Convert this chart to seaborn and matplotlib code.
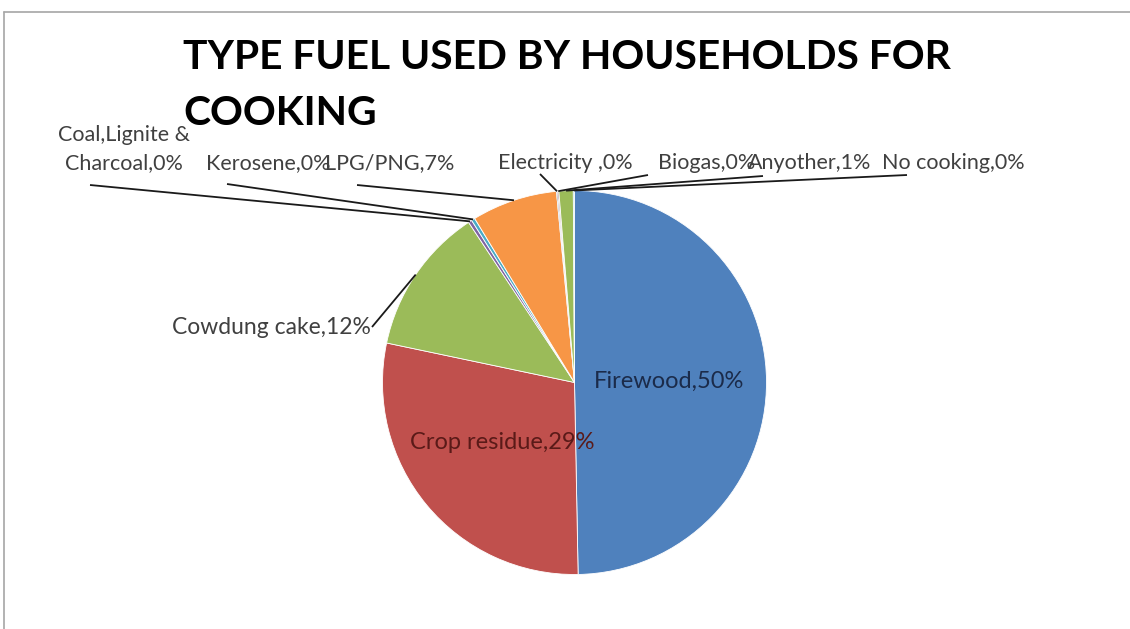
import numpy as np
import matplotlib
matplotlib.use("Agg")
import matplotlib.pyplot as plt
from matplotlib.lines import Line2D
import seaborn as sns

# ---- data ----
categories = ["Firewood", "Crop residue", "Cowdung cake", "Coal,Lignite &\nCharcoal",
              "Kerosene", "LPG/PNG", "Electricity ", "Biogas", "Anyother", "No cooking"]
shares = [49.7, 28.6, 12.4, 0.3, 0.3, 7.2, 0.1, 0.1, 1.2, 0.1]
pct_labels = ["50%", "29%", "12%", "0%", "0%", "7%", "0%", "0%", "1%", "0%"]
title_lines = ["TYPE FUEL USED BY HOUSEHOLDS FOR", "COOKING"]

# ---- style ----
sns.set_theme(style="white")
plt.rcParams["font.family"] = ["Lato", "DejaVu Sans"]
colors = sns.color_palette(["#4F81BD", "#C0504D", "#9BBB59", "#8064A2", "#4BACC6",
                            "#F79646", "#2C4D75", "#772C2A", "#9BBB59", "#4BACC6"])

W, H = 1130, 629
fig = plt.figure(figsize=(W / 100, H / 100), dpi=100)
ax = fig.add_axes([0, 0, 1, 1])

def py(y):
    return H - y

cx, cy, R = 574.5, py(382.5), 192
wedges, _ = ax.pie(shares, colors=colors, startangle=90, counterclock=False,
                   center=(cx, cy), radius=R, frame=True,
                   wedgeprops=dict(linewidth=0.6, edgecolor="white"))
ax.set_xlim(0, W)
ax.set_ylim(0, H)
ax.axis("off")

def mid_angle(w):
    return np.deg2rad((w.theta1 + w.theta2) / 2)

label_color = "#404040"

# inside labels
inside = {0: "#1B2B4A", 1: "#5A1A18"}
for i, c in inside.items():
    a = mid_angle(wedges[i])
    ax.text(cx + 0.49 * R * np.cos(a), cy + 0.49 * R * np.sin(a),
            f"{categories[i]},{pct_labels[i]}", ha="center", va="center",
            fontsize=17, color=c)

# outside labels: text center (px), leader start (px)
outside = {
    2: ((271, 328), (372, 327)),
    3: ((124, 149), (90, 185)),
    4: ((268, 163), (227, 184)),
    5: ((390, 163), (357, 185)),
    6: ((565, 163), (540, 174)),
    7: ((707, 163), (648, 175)),
    8: ((810, 163), (763, 176)),
    9: ((953, 163), (907, 175)),
}
for i, ((tx, ty), (lx, ly)) in outside.items():
    a = mid_angle(wedges[i])
    ex, ey = cx + R * np.cos(a), cy + R * np.sin(a)
    ax.plot([lx, ex], [py(ly), ey], color="#1a1a1a", lw=1.3,
            solid_capstyle="butt", zorder=3)
    fs = 16.5 if i == 2 else 15.5
    ax.text(tx, py(ty), f"{categories[i]},{pct_labels[i]}", ha="center",
            va="center", fontsize=fs, color=label_color,
            linespacing=1.45, zorder=4)

# title
ax.text(183, py(69), title_lines[0], ha="left", va="baseline",
        fontsize=29.3, fontweight="bold", color="black")
ax.text(183, py(125), title_lines[1], ha="left", va="baseline",
        fontsize=29.3, fontweight="bold", color="black")

# chart area border (top and left)
fig.add_artist(Line2D([4 / W, 1], [1 - 12 / H, 1 - 12 / H], color="#A6A6A6", lw=1.2))
fig.add_artist(Line2D([4 / W, 4 / W], [0, 1 - 12 / H], color="#A6A6A6", lw=1.2))

fig.savefig("out.png", dpi=100, facecolor="white")
